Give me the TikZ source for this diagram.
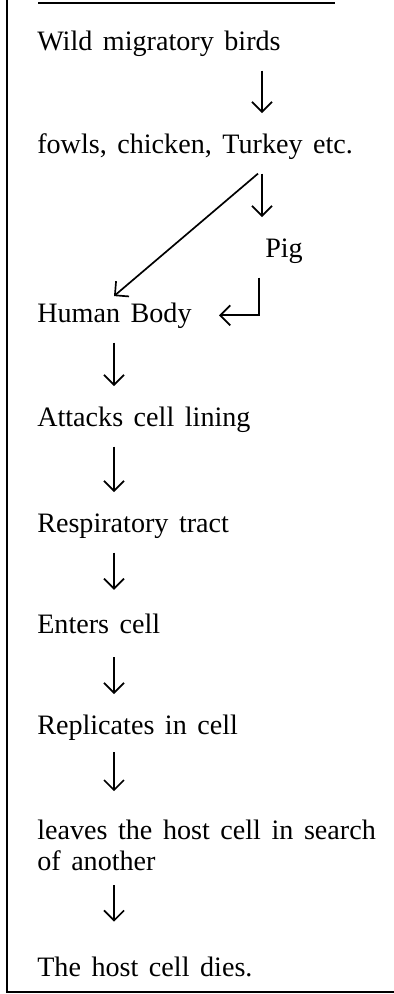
\documentclass[tikz,border=0pt]{standalone}
\usepackage{fontspec}
\setmainfont[WordSpace=1.5]{Liberation Serif}
\usetikzlibrary{arrows.meta}
\begin{document}
\begin{tikzpicture}[
    x=0.025cm, y=-0.025cm,
    stage/.style={anchor=base west, inner sep=0pt, text height=14pt, text depth=4.5pt, font=\fontsize{20}{22}\selectfont},
    arrow/.style={-{Straight Barb[length=2.5mm,width=5mm]}, line width=1.2pt, shorten <=0.35cm, shorten >=0.5cm},
    frame/.style={line width=1.5pt}
]
    \useasboundingbox (0,0) rectangle (394,994);
    \draw[frame] (7,0) -- (7,992) -- (394,992);
    \draw[frame] (38,3) -- (335,3);

    \coordinate (colR) at (262,0);
    \coordinate (colP) at (259,0);
    \coordinate (colD) at (107,0);
    \coordinate (colL) at (114,0);

    \node[stage] (birds) at (37,50) {Wild migratory birds};
    \node[stage] (fowls) at (37,153) {fowls, chicken, Turkey etc.};
    \node[stage] (pig) at (265,257) {Pig};
    \node[stage] (human) at (37,322) {Human Body};
    \node[stage] (attacks) at (37,426) {Attacks cell lining};
    \node[stage] (resp) at (37,532) {Respiratory tract};
    \node[stage] (enters) at (37,633) {Enters cell};
    \node[stage] (repl) at (37,734) {Replicates in cell};
    \node[stage, text height={}, text depth={}, anchor=north west, align=left] (leaves) at (37,820) {leaves the host cell in search\\of another};
    \node[stage] (dies) at (37,976) {The host cell dies.};

    \coordinate (fork) at (fowls.south -| colR);

    \draw[arrow] (birds.south -| colR) -- (fowls.north -| colR);
    \draw[arrow] (fork) -- (pig.north -| colR);
    \draw[arrow, shorten <=0pt, shorten >=0.23cm] ([shift={(-4,14)}]fork) -- (human.north -| colD);
    \draw[arrow, shorten >=0.68cm] (pig.south -| colP) |- (human.east);
    \draw[arrow] (human.south -| colL) -- (attacks.north -| colL);
    \draw[arrow] (attacks.south -| colL) -- (resp.north -| colL);
    \draw[arrow, shorten >=0.58cm] (resp.south -| colL) -- (enters.north -| colL);
    \draw[arrow, shorten <=0.44cm] (enters.south -| colL) -- (repl.north -| colL);
    \draw[arrow, shorten <=0.29cm, shorten >=0.72cm] (repl.south -| colL) -- (leaves.north -| colL);
    \draw[arrow, shorten >=0.86cm] (leaves.south -| colL) -- (dies.north -| colL);
\end{tikzpicture}
\end{document}
